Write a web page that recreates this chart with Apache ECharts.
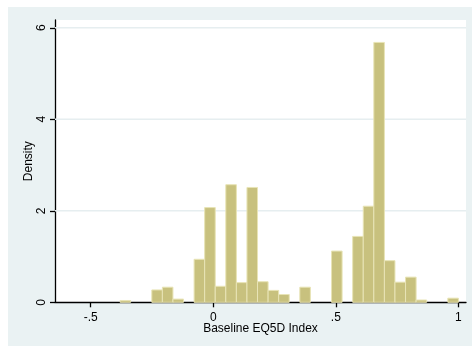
<!DOCTYPE html>
<html>
<head>
<meta charset="utf-8">
<script src="https://cdn.jsdelivr.net/npm/echarts@6/dist/echarts.min.js"></script>
<style>
  html, body { margin: 0; padding: 0; background: #ffffff; }
  #frame { position: absolute; left: 8px; top: 7px; width: 464px; height: 339px; background: #eaf2f3; }
  #chart { position: absolute; left: 0; top: 0; width: 472px; height: 347px; }
</style>
</head>
<body>
<div id="frame"></div>
<div id="chart"></div>
<script>
// Histogram of baseline EQ5D index: 32 equal-width bins from -0.38 to 1.0
const binStart = -0.38;
const binWidth = 0.043125;
const density = [
  0.04, 0, 0, 0.27, 0.33, 0.07, 0, 0.94,
  2.07, 0.35, 2.57, 0.43, 2.51, 0.45, 0.26, 0.17,
  0, 0.33, 0, 0, 1.12, 0, 1.44, 2.10,
  5.68, 0.91, 0.44, 0.55, 0.05, 0, 0, 0.09
];
const xTicks = [-0.5, 0, 0.5, 1];
const xTickLabels = ['-.5', '0', '.5', '1'];
const yTicks = [0, 2, 4, 6];

const xMin = -0.6455, xMax = 1.031;
const yMin = 0, yMax = 6.17;

const bins = [];
density.forEach(function (d, i) {
  if (d > 0) {
    const lo = binStart + i * binWidth;
    bins.push([lo, lo + binWidth, d]);
  }
});

const chart = echarts.init(document.getElementById('chart'), null, { renderer: 'canvas' });
const font = 'Liberation Sans, Arial, sans-serif';

chart.setOption({
  animation: false,
  backgroundColor: 'transparent',
  grid: {
    left: 55, top: 20, right: 6, bottom: 44.7,
    show: true, backgroundColor: '#ffffff', borderWidth: 0
  },
  xAxis: {
    type: 'value',
    min: xMin, max: xMax,
    name: 'Baseline EQ5D Index',
    nameLocation: 'middle',
    nameGap: 20,
    nameMoveOverlap: false,
    nameTextStyle: { color: '#000', fontFamily: font, fontSize: 12 },
    axisLine: { show: true, onZero: false, lineStyle: { color: '#000', width: 1.3 } },
    axisTick: { show: true, inside: false, length: 5, customValues: xTicks, lineStyle: { color: '#000', width: 1.3 } },
    axisLabel: {
      customValues: xTicks, color: '#000', fontFamily: font, fontSize: 12, margin: 9,
      formatter: function (v) {
        const k = xTicks.findIndex(function (t) { return Math.abs(t - v) < 1e-9; });
        return k >= 0 ? xTickLabels[k] : '';
      }
    },
    splitLine: { show: false }
  },
  yAxis: {
    type: 'value',
    min: yMin, max: yMax,
    name: 'Density',
    nameLocation: 'middle',
    nameGap: 20,
    nameMoveOverlap: false,
    nameTextStyle: { color: '#000', fontFamily: font, fontSize: 12 },
    axisLine: { show: true, onZero: false, lineStyle: { color: '#000', width: 1.3 } },
    axisTick: { show: true, inside: false, length: 5, customValues: yTicks, lineStyle: { color: '#000', width: 1.3 } },
    axisLabel: {
      customValues: yTicks, rotate: 90, color: '#000', fontFamily: font, fontSize: 12, margin: 7,
      formatter: function (v) { return String(v); }
    },
    splitLine: { show: false }
  },
  series: [
    {
      // horizontal reference lines at the labelled density ticks
      type: 'custom',
      silent: true,
      data: yTicks.filter(function (t) { return t > 0; }).map(function (t) { return [t]; }),
      renderItem: function (params, api) {
        const a = api.coord([xMin, api.value(0)]);
        const b = api.coord([xMax, api.value(0)]);
        return {
          type: 'line',
          shape: { x1: a[0], y1: a[1], x2: b[0], y2: b[1] },
          style: { stroke: '#e6eef0', lineWidth: 1.5 }
        };
      },
      z: 1
    },
    {
      type: 'custom',
      data: bins,
      encode: { x: [0, 1], y: 2 },
      renderItem: function (params, api) {
        const p0 = api.coord([api.value(0), 0]);
        const p1 = api.coord([api.value(1), api.value(2)]);
        return {
          type: 'rect',
          shape: { x: p0[0], y: p1[1], width: p1[0] - p0[0], height: p0[1] - p1[1] },
          style: { fill: '#c8c17e', stroke: '#e8e4b6', lineWidth: 1 }
        };
      },
      z: 2
    }
  ]
});
</script>
</body>
</html>
